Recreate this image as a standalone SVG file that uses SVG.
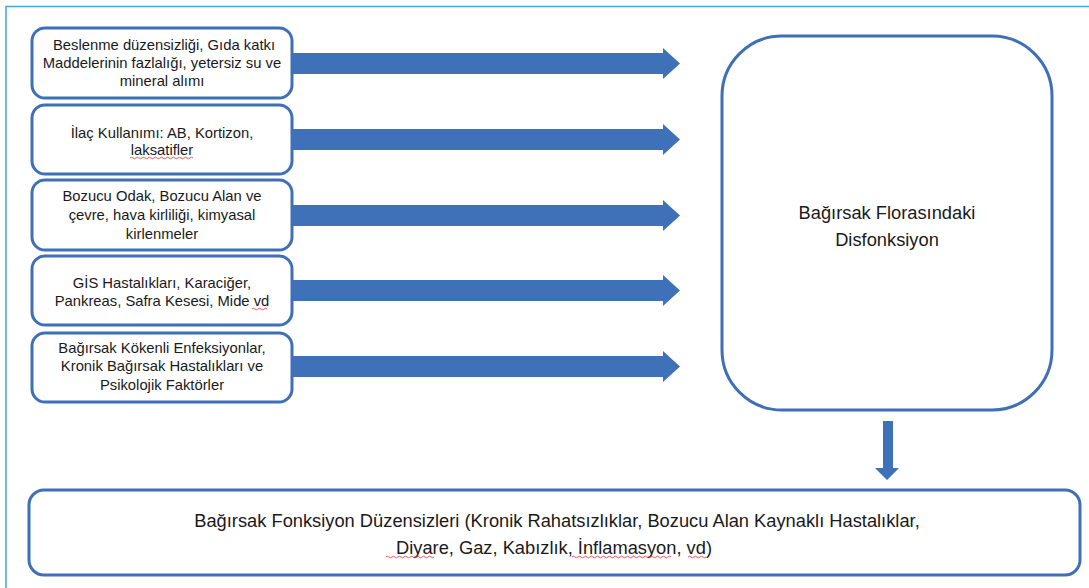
<svg xmlns="http://www.w3.org/2000/svg" width="1089" height="588" viewBox="0 0 1089 588">
<style>
.box{fill:#fff;stroke:#3f6fb6;stroke-width:3}
.arr{fill:#3f71b8}
.t{font-family:"Liberation Sans",Arial,sans-serif;font-size:14.8px;fill:#1a1a1a;text-anchor:middle}
.tb{font-family:"Liberation Sans",Arial,sans-serif;font-size:18.3px;fill:#1a1a1a;text-anchor:middle}
.sq{fill:none;stroke:#e03030;stroke-width:0.8}
</style>
<rect width="1089" height="588" fill="#fff"/>
<path d="M6,588 V6.5 H1089" fill="none" stroke="#4aa3df" stroke-width="1.5"/>
<g id="connectors">
<path class="arr" d="M292,53 H663 V48 L680,63.5 L663,79 V74 H292 Z"/>
<path class="arr" d="M292,129 H663 V124 L680,139.5 L663,155 V150 H292 Z"/>
<path class="arr" d="M292,205 H663 V200 L680,215.5 L663,231 V226 H292 Z"/>
<path class="arr" d="M292,280 H663 V275 L680,290.5 L663,306 V301 H292 Z"/>
<path class="arr" d="M292,356 H663 V351 L680,366.5 L663,382 V377 H292 Z"/>
<path class="arr" d="M883,421 H893 V468 H899 L887,480 L875,468 H883 Z"/>
</g>
<g id="n1"><rect class="box" x="32" y="28" width="260" height="70" rx="13"/>
<text class="t" x="164" y="50">Beslenme düzensizliği, Gıda katkı</text>
<text class="t" x="162" y="68">Maddelerinin fazlalığı, yetersiz su ve</text>
<text class="t" x="162" y="86">mineral alımı</text></g>
<g id="n2"><rect class="box" x="32" y="105" width="260" height="69" rx="13"/>
<text class="t" x="162" y="138">İlaç Kullanımı: AB, Kortizon,</text>
<text class="t" x="162" y="155">laksatifler</text>
<path class="sq" d="M130,158 q1.5,-1.5 3,0 t3,0 t3,0 t3,0 t3,0 t3,0 t3,0 t3,0 t3,0 t3,0 t3,0 t3,0 t3,0 t3,0 t3,0 t3,0 t3,0 t3,0 t3,0 t3,0 t3,0"/></g>
<g id="n3"><rect class="box" x="32" y="180" width="260" height="70" rx="13"/>
<text class="t" x="162" y="201">Bozucu Odak, Bozucu Alan ve</text>
<text class="t" x="162" y="220">çevre, hava kirliliği, kimyasal</text>
<text class="t" x="162" y="239">kirlenmeler</text></g>
<g id="n4"><rect class="box" x="32" y="256" width="260" height="69" rx="13"/>
<text class="t" x="162" y="288">GİS Hastalıkları, Karaciğer,</text>
<text class="t" x="162" y="306">Pankreas, Safra Kesesi, Mide vd</text>
<path class="sq" d="M252,309 q1.5,-1.5 3,0 t3,0 t3,0 t3,0 t3,0"/></g>
<g id="n5"><rect class="box" x="32" y="333" width="260" height="69" rx="13"/>
<text class="t" x="162" y="353">Bağırsak Kökenli Enfeksiyonlar,</text>
<text class="t" x="162" y="371">Kronik Bağırsak Hastalıkları ve</text>
<text class="t" x="162" y="390">Psikolojik Faktörler</text></g>
<g id="n6"><rect class="box" x="722" y="36" width="330" height="374" rx="60"/>
<text class="tb" x="887" y="219">Bağırsak Florasındaki</text>
<text class="tb" x="887" y="246">Disfonksiyon</text></g>
<g id="n7"><rect class="box" x="29" y="490" width="1051" height="85" rx="15"/>
<text class="tb" x="557" y="527">Bağırsak Fonksiyon Düzensizleri (Kronik Rahatsızlıklar, Bozucu Alan Kaynaklı Hastalıklar,</text>
<text class="tb" x="554" y="554">Diyare, Gaz, Kabızlık, İnflamasyon, vd)</text>
<path class="sq" d="M386,557 q1.5,-1.5 3,0 t3,0 t3,0 t3,0 t3,0 t3,0 t3,0 t3,0 t3,0 t3,0 t3,0 t3,0 t3,0 t3,0 t3,0 t3,0"/>
<path class="sq" d="M572,557 q1.5,-1.5 3,0 t3,0 t3,0 t3,0 t3,0 t3,0 t3,0 t3,0 t3,0 t3,0 t3,0 t3,0 t3,0 t3,0 t3,0 t3,0 t3,0 t3,0 t3,0 t3,0 t3,0 t3,0 t3,0 t3,0 t3,0 t3,0 t3,0 t3,0 t3,0 t3,0 t3,0 t3,0 t3,0"/>
<path class="sq" d="M688,557 q1.5,-1.5 3,0 t3,0 t3,0 t3,0 t3,0 t3,0"/></g>
</svg>
